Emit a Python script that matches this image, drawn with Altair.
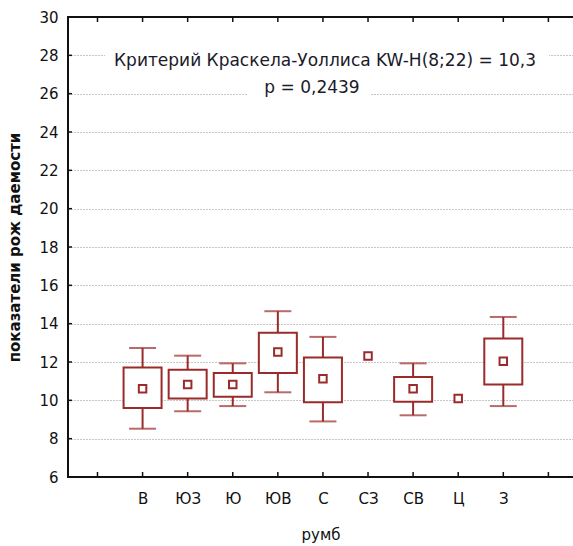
import altair as alt
import pandas as pd

# ---- data ----
categories = ["В", "ЮЗ", "Ю", "ЮВ", "С", "СЗ", "СВ", "Ц", "З"]
positions = [1, 2, 3, 4, 5, 6, 7, 8, 9]
whisker_low = [8.52, 9.43, 9.70, 10.42, 8.90, None, 9.22, None, 9.70]
box_low = [9.60, 10.09, 10.19, 11.43, 9.90, None, 9.93, None, 10.82]
median = [10.61, 10.82, 10.82, 12.52, 11.13, 12.31, 10.61, 10.10, 12.04]
box_high = [11.71, 11.60, 11.43, 13.53, 12.23, None, 11.22, None, 13.22]
whisker_high = [12.73, 12.33, 11.93, 14.65, 13.31, None, 11.93, None, 14.35]

x_ticks = [0, 1, 2, 3, 4, 5, 6, 7, 8, 9, 10]
y_ticks = [6, 8, 10, 12, 14, 16, 18, 20, 22, 24, 26, 28, 30]

annotation_line1 = "Критерий Краскела-Уоллиса KW-H(8;22) = 10,3"
annotation_line2 = "p = 0,2439"

x_title = "румб"
y_title = "показатели рож даемости"

# ---- styling ----
W, H = 505, 460
BOX = "#9b2b2b"
FONT = "DejaVu Sans"
AX = "#111111"

df = pd.DataFrame({
    "pos": positions, "cat": categories,
    "lo": whisker_low, "q1": box_low, "med": median,
    "q3": box_high, "hi": whisker_high,
})
boxes = df.dropna(subset=["q1"])

xscale = alt.Scale(domain=[-0.543, 10.435], nice=False, zero=False)
yscale = alt.Scale(domain=[6, 30], nice=False, zero=False)

label_arr = "[" + ",".join(["''"] + ["'" + c + "'" for c in categories] + ["''"]) + "]"

x_axis = alt.Axis(
    values=x_ticks, labelExpr=label_arr + "[datum.value]", ticks=False, domain=False,
    grid=False, labelFont=FONT, labelFontSize=15,
    labelColor="#111", labelPadding=14, labelAngle=0, title=x_title,
    titleFont=FONT, titleFontSize=15, titleFontWeight="normal", titleColor="#111",
    titlePadding=21,
)
y_axis = alt.Axis(
    values=y_ticks, ticks=False, domain=False, grid=True, gridColor="#8f8f8f",
    gridDash=[1, 2], gridWidth=1, labelFont=FONT, labelFontSize=15,
    labelColor="#111", labelPadding=10, title=y_title, titleFont=FONT,
    titleFontSize=15, titleFontWeight="bold", titleColor="#111", titlePadding=16,
)


def X(field):
    return alt.X(field, scale=xscale, axis=x_axis)


def Y(field):
    return alt.Y(field, scale=yscale, axis=y_axis)


whiskers = alt.Chart(boxes).mark_rule(color=BOX, strokeWidth=2).encode(
    x=X("pos:Q"), y=Y("lo:Q"), y2="hi:Q",
)
caps_lo = alt.Chart(boxes).mark_tick(color=BOX, orient="horizontal", thickness=2, size=27).encode(
    x=X("pos:Q"), y=Y("lo:Q"),
)
caps_hi = alt.Chart(boxes).mark_tick(color=BOX, orient="horizontal", thickness=2, size=27).encode(
    x=X("pos:Q"), y=Y("hi:Q"),
)
box = alt.Chart(boxes).mark_bar(fill="white", stroke=BOX, strokeWidth=2, size=38).encode(
    x=X("pos:Q"), y=Y("q1:Q"), y2="q3:Q",
)
med = alt.Chart(df).mark_square(fill="white", stroke=BOX, strokeWidth=2, size=56, opacity=1).encode(
    x=X("pos:Q"), y=Y("med:Q"),
)

# frame lines and inward tick marks
yt = alt.Chart(pd.DataFrame({"t": y_ticks})).mark_rule(color=AX, strokeWidth=1.5).encode(
    y=Y("t:Q"), x=alt.value(0), x2=alt.value(4)
)
xt_bottom = alt.Chart(pd.DataFrame({"t": x_ticks})).mark_rule(color=AX, strokeWidth=1.5).encode(
    x=X("t:Q"), y=alt.value(H), y2=alt.value(H - 5)
)
xt_top = alt.Chart(pd.DataFrame({"t": x_ticks})).mark_rule(color=AX, strokeWidth=1.5).encode(
    x=X("t:Q"), y=alt.value(0), y2=alt.value(5)
)
frame = pd.DataFrame({"t": [0]})
top_line = alt.Chart(frame).mark_rule(color=AX, strokeWidth=2).encode(
    x=alt.value(0), x2=alt.value(W), y=alt.value(0)
)
bottom_line = alt.Chart(frame).mark_rule(color=AX, strokeWidth=2).encode(
    x=alt.value(0), x2=alt.value(W), y=alt.value(H)
)
left_line = alt.Chart(frame).mark_rule(color=AX, strokeWidth=2).encode(
    x=alt.value(0), y=alt.value(-1), y2=alt.value(H + 1)
)

# annotation with white backing
ann = pd.DataFrame({"t": [annotation_line1, annotation_line2]})
mask1 = alt.Chart(ann).mark_rect(color="white").encode(
    x=alt.value(37), x2=alt.value(481), y=alt.value(28), y2=alt.value(52)
)
mask2 = alt.Chart(ann).mark_rect(color="white").encode(
    x=alt.value(180), x2=alt.value(302), y=alt.value(58), y2=alt.value(84)
)
text1 = alt.Chart(pd.DataFrame({"t": [annotation_line1]})).mark_text(
    font=FONT, fontSize=17, color="#1a1a2a", align="center", baseline="alphabetic"
).encode(text="t:N", x=alt.value(257), y=alt.value(49))
text2 = alt.Chart(pd.DataFrame({"t": [annotation_line2]})).mark_text(
    font=FONT, fontSize=17, color="#1a1a2a", align="center", baseline="alphabetic"
).encode(text="t:N", x=alt.value(244), y=alt.value(76))

chart = alt.layer(
    whiskers, mask1, mask2, text1, text2, caps_lo, caps_hi, box, med,
    yt, xt_bottom, xt_top, top_line, bottom_line, left_line,
).properties(
    width=W, height=H,
    autosize=alt.AutoSizeParams(type="none"),
    padding={"left": 68, "top": 17, "right": 0, "bottom": 69},
).configure_view(stroke=None).configure(background="white")

chart.save("out.html", embed_options={"renderer": "svg", "actions": False})
